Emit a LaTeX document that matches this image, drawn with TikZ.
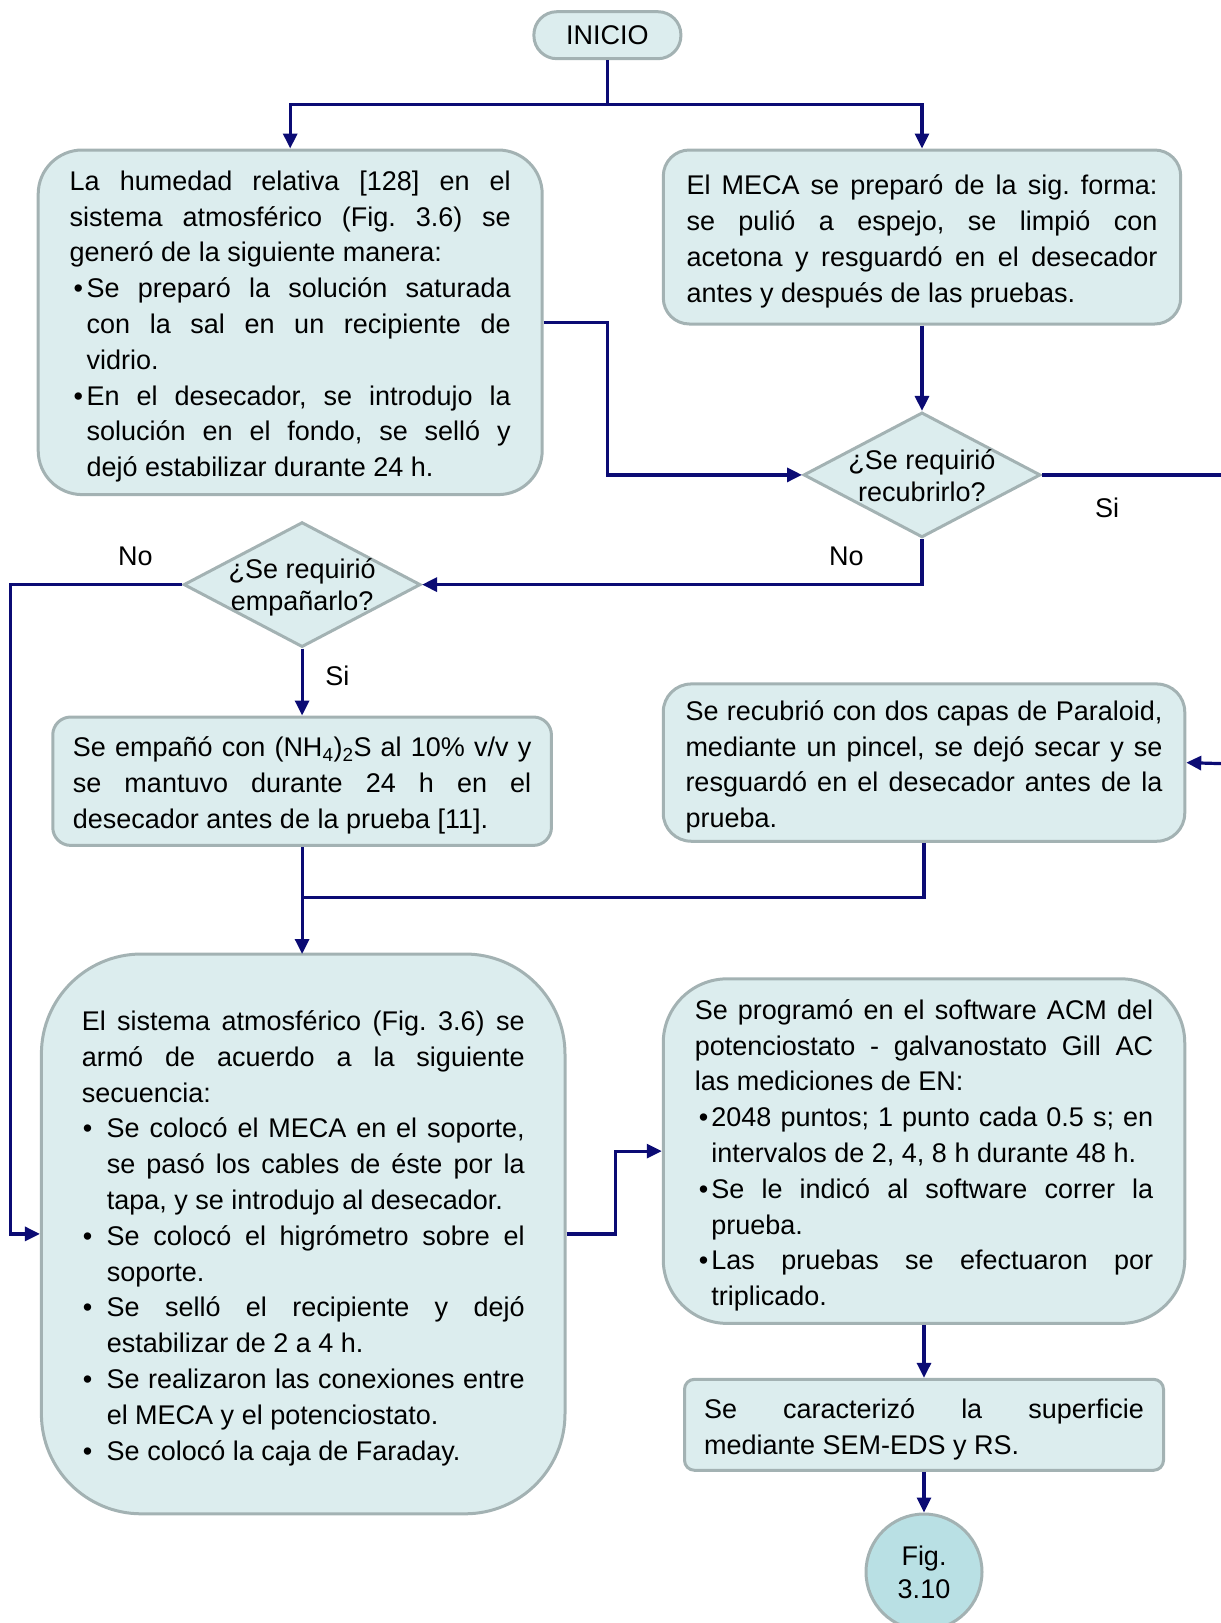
\documentclass[tikz,border=0pt]{standalone}
\usepackage{fontspec}
\setmainfont{Liberation Sans}
\usetikzlibrary{shapes.geometric,arrows.meta}
\frenchspacing

\definecolor{boxfill}{HTML}{DCEDEE}
\definecolor{boxline}{HTML}{A3B2B3}
\definecolor{endfill}{HTML}{B9E0E4}
\definecolor{flow}{HTML}{0B0B74}

% line helpers for justified text blocks
\newlength\hang
\newlength\bulletoff
\setlength\hang{17pt}
\setlength\bulletoff{4pt}
\newcommand\tblock[2]{\vbox{\hsize=#1\relax\vskip8.6pt#2}}
\newcommand\jln[1]{\hbox to\hsize{#1}}
\newcommand\lln[1]{\hbox to\hsize{#1\hfil}}
\newcommand\bjln[1]{\hbox to\hsize{\hbox to\hang{\hskip\bulletoff•\hss}#1}}
\newcommand\bln[1]{\hbox to\hsize{\hbox to\hang{\hskip\bulletoff•\hss}#1\hfil}}
\newcommand\ijln[1]{\hbox to\hsize{\hskip\hang#1}}
\newcommand\iln[1]{\hbox to\hsize{\hskip\hang#1\hfil}}
\newcommand\dtext[1]{\raisebox{-10pt}[0pt][0pt]{\makebox[0pt]{\begin{tabular}{@{}c@{}}#1\end{tabular}}}}

\begin{document}
\begin{tikzpicture}[x=1pt,y=-1pt,
  every node/.style={font=\fontsize{27}{35.8}\selectfont},
  procbox/.style={draw=boxline,fill=boxfill,line width=3pt,inner sep=0pt},
  decbox/.style={diamond,draw=boxline,fill=boxfill,line width=3pt,inner sep=0pt,
    minimum width=237pt,minimum height=125pt,font=\fontsize{27}{32}\selectfont},
  flowline/.style={draw=flow,line width=3.2pt},
  flowarrow/.style={flowline,-{Triangle[length=15pt,width=14pt]}},
  lbl/.style={inner sep=0pt}]
\useasboundingbox (0,0) rectangle (1221,1623);

% start
\node[procbox,rounded corners=23pt,minimum width=147pt,minimum height=47pt] (ini) at (607.4,35.2) {INICIO};

% preparation of humidity and electrode
\node[procbox,rounded corners=44pt,minimum width=504pt,minimum height=344.6pt] (hum) at (290.2,322.3) {\tblock{441pt}{%
\jln{La humedad relativa [128] en el}
\jln{sistema atmosférico (Fig. 3.6) se}
\lln{generó de la siguiente manera:}
\bjln{Se preparó la solución saturada}
\ijln{con la sal en un recipiente de}
\iln{vidrio.}
\bjln{En el desecador, se introdujo la}
\ijln{solución en el fondo, se selló y}
\iln{dejó estabilizar durante 24 h.}}};

\node[procbox,rounded corners=26pt,minimum width=517.4pt,minimum height=174pt] (meca) at (922,237) {\tblock{471pt}{%
\jln{El MECA se preparó de la sig. forma:}
\jln{se pulió a espejo, se limpió con}
\jln{acetona y resguardó en el desecador}
\lln{antes y después de las pruebas.}}};

% decisions
\node[decbox] (d1) at (922,474.9) {\dtext{¿Se requirió\\recubrirlo?}};
\node[decbox] (d2) at (302.1,584.6) {\dtext{¿Se requirió\\empañarlo?}};

% treatments
\node[procbox,rounded corners=18pt,minimum width=498.7pt,minimum height=128.4pt] (emp) at (302.1,781.2) {\tblock{458.4pt}{%
\jln{Se empañó con (NH\textsubscript{4})\textsubscript{2}S al 10\% v/v y}
\jln{se mantuvo durante 24 h en el}
\lln{desecador antes de la prueba [11].}}};

\node[procbox,rounded corners=28pt,minimum width=521.5pt,minimum height=157.3pt] (rec) at (924,762.6) {\tblock{477pt}{%
\jln{Se recubrió con dos capas de Paraloid,}
\jln{mediante un pincel, se dejó secar y se}
\jln{resguardó en el desecador antes de la}
\lln{prueba.}}};

% assembly of the atmospheric system
\setlength\hang{25pt}
\setlength\bulletoff{1pt}
\node[procbox,rounded corners=100pt,minimum width=523.6pt,minimum height=559.8pt] (arm) at (303.2,1233.9) {\tblock{442.9pt}{%
\jln{El sistema atmosférico (Fig. 3.6) se}
\jln{armó de acuerdo a la siguiente}
\lln{secuencia:}
\bjln{Se colocó el MECA en el soporte,}
\ijln{se pasó los cables de éste por la}
\iln{tapa, y se introdujo al desecador.}
\bjln{Se colocó el higrómetro sobre el}
\iln{soporte.}
\bjln{Se selló el recipiente y dejó}
\iln{estabilizar de 2 a 4 h.}
\bjln{Se realizaron las conexiones entre}
\iln{el MECA y el potenciostato.}
\bln{Se colocó la caja de Faraday.}}};

% measurement programme
\setlength\hang{16.6pt}
\setlength\bulletoff{4pt}
\node[procbox,rounded corners=64pt,minimum width=521.5pt,minimum height=344.6pt] (prog) at (924,1151.1) {\tblock{458.4pt}{%
\jln{Se programó en el software ACM del}
\jln{potenciostato - galvanostato Gill AC}
\lln{las mediciones de EN:}
\bjln{2048 puntos; 1 punto cada 0.5 s; en}
\iln{intervalos de 2, 4, 8 h durante 48 h.}
\bjln{Se le indicó al software correr la}
\iln{prueba.}
\bjln{Las pruebas se efectuaron por}
\iln{triplicado.}}};

\node[procbox,rounded corners=10pt,minimum width=479pt,minimum height=91pt] (car) at (924,1424.8) {\tblock{439.8pt}{%
\jln{Se caracterizó la superficie}
\lln{mediante SEM-EDS y RS.}}};

% off-page connector
\node[circle,draw=boxline,fill=endfill,line width=3pt,minimum size=116pt,inner sep=0pt,
  align=center,font=\fontsize{27}{33}\selectfont] (fig) at (924,1572) {Fig.\\3.10};

% free ends at the right margin
\coordinate (outA) at (1221,474.9);
\coordinate (outB) at (1221,763.6);

% connectors
\draw[flowline] (ini.south) -- (607.4,104.5) coordinate (split);
\draw[flowarrow] (split) -| (hum.north);
\draw[flowarrow] (split) -| (meca.north);
\draw[flowarrow] (hum.east) -| (607.4,474.9) -- (d1.west);
\draw[flowarrow] (meca.south) -- (d1.north);
\draw[flowline] (d1.east) -- (outA);
\draw[flowarrow] (outB) -- (rec.east);
\draw[flowarrow] (d1.south) |- (d2.east);
\draw[flowarrow] (d2.west) -| (10.3,1233.9) -- (arm.west);
\draw[flowarrow] (d2.south) -- (emp.north);
\draw[flowarrow] (emp.south) -- (302.1,954);
\draw[flowline] (rec.south) |- (302.1,897.1);
\draw[flowarrow] (arm.east) -| (615.6,1151.1) -- (prog.west);
\draw[flowarrow] (prog.south) -- (car.north);
\draw[flowarrow] (car.south) -- (fig.north);

% branch labels
\node[lbl] (siA) at (1107,508) {Si};
\node[lbl] (noA) at (846.4,556.7) {No};
\node[lbl] (noB) at (135.5,556.7) {No};
\node[lbl] (siB) at (337.3,675.7) {Si};
\end{tikzpicture}
\end{document}
